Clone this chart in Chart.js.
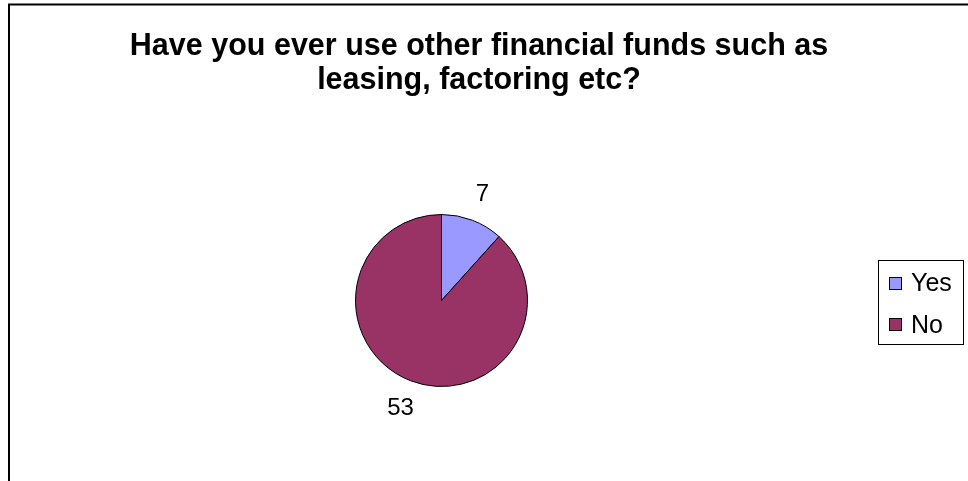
<!DOCTYPE html>
<html>
<head>
<meta charset="utf-8">
<script src="https://cdn.jsdelivr.net/npm/chart.js@4/dist/chart.umd.min.js"></script>
<style>
  html, body { margin: 0; padding: 0; background: #fff; }
  #wrap { width: 968px; height: 481px; }
</style>
</head>
<body>
<div id="wrap"><canvas id="pieChart" width="968" height="481"></canvas></div>
<script>
// ── Data ──────────────────────────────────────────────────────────
const titleLines = ['Have you ever use other financial funds such as', 'leasing, factoring etc?'];
const labels     = ['Yes', 'No'];
const answers    = [7, 53];
const colors     = ['#9999FF', '#993366'];

const FONT = '"Liberation Sans", Arial, Helvetica, sans-serif';

// ── Frame, title, value labels and legend drawn on the canvas ─────
const decorations = {
  id: 'decorations',
  afterDraw(chart) {
    const ctx = chart.ctx;
    ctx.save();

    // outer frame (runs off the right and bottom edges)
    ctx.strokeStyle = '#000';
    ctx.lineWidth = 2;
    ctx.strokeRect(9, 4.5, 1000, 520);

    // title, two centred lines
    ctx.fillStyle = '#000';
    ctx.textAlign = 'center';
    ctx.textBaseline = 'alphabetic';
    ctx.font = 'bold 30.5px ' + FONT;
    titleLines.forEach((line, i) => ctx.fillText(line, 479, 55 + i * 34));

    // value labels just outside each slice
    ctx.textBaseline = 'middle';
    ctx.font = '24px ' + FONT;
    const arcs = chart.getDatasetMeta(0).data;
    arcs.forEach((arc, i) => {
      const mid = (arc.startAngle + arc.endAngle) / 2;
      const d = arc.outerRadius * 1.33;
      ctx.fillText(String(answers[i]), arc.x + Math.cos(mid) * d, arc.y + Math.sin(mid) * d + 1);
    });

    // legend box
    ctx.lineWidth = 1;
    ctx.strokeRect(878.5, 260.5, 85, 84);
    ctx.textAlign = 'left';
    ctx.textBaseline = 'alphabetic';
    ctx.font = '25px ' + FONT;
    labels.forEach((lab, i) => {
      const top = 277 + i * 41;
      ctx.fillStyle = colors[i];
      ctx.fillRect(889.5, top + 0.5, 12, 12);
      ctx.strokeRect(889.5, top + 0.5, 12, 12);
      ctx.fillStyle = '#000';
      ctx.fillText(lab, 911, 291 + i * 41.5);
    });

    ctx.restore();
  }
};

// ── Chart setup ───────────────────────────────────────────────────
new Chart(document.getElementById('pieChart').getContext('2d'), {
  type: 'pie',
  data: {
    labels,
    datasets: [{
      data: answers,
      backgroundColor: colors,
      borderColor: '#000',
      borderWidth: 1,
      hoverOffset: 0
    }]
  },
  options: {
    responsive: false,
    animation: false,
    layout: { padding: { left: 355, top: 214, right: 440, bottom: 94 } },
    plugins: {
      legend: { display: false },
      title: { display: false },
      tooltip: { enabled: false }
    }
  },
  plugins: [decorations]
});
</script>
</body>
</html>
